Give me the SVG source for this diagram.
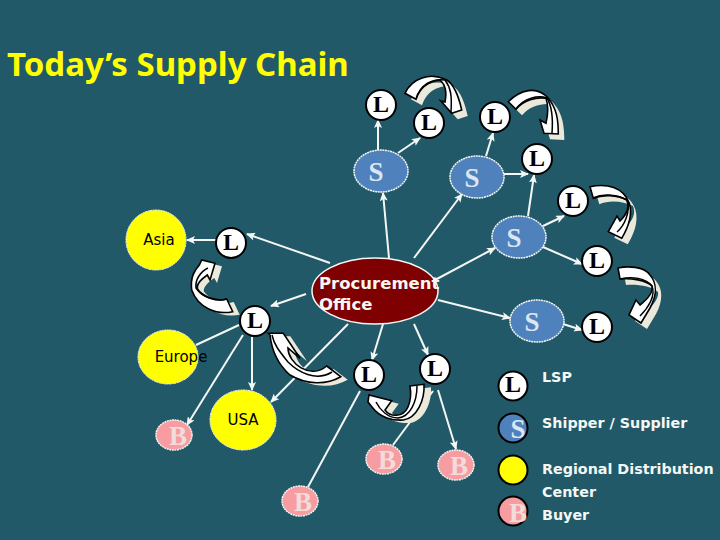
<svg xmlns="http://www.w3.org/2000/svg" width="720" height="540" viewBox="0 0 720 540">
<style>
.c line{stroke:#f4f7f4;stroke-width:2;fill:none}
.a{marker-end:url(#ah)}
.l circle{fill:#fff;stroke:#000;stroke-width:2}
.l text,.s text,.b text{font-family:"Liberation Serif",serif;font-weight:bold;text-anchor:middle}
.l text{font-size:24px;fill:#000}
.s ellipse{fill:#4f81bd;stroke:#f4f7f4;stroke-width:1.5;stroke-dasharray:2 .6}
.s text{font-size:27px;fill:#dce6f1}
.b ellipse{fill:#f79ca0;stroke:#f4f7f4;stroke-width:1.5;stroke-dasharray:2 .6}
.b text{font-size:27px;fill:#f2dcdb}
.y ellipse{fill:#ffff00;stroke:#f4f7f4;stroke-width:1;stroke-dasharray:2 .6}
.y text,.t{font-family:"DejaVu Sans",sans-serif}
.y text{font-size:15px;fill:#000;text-anchor:middle}
.t{font-size:14.3px;font-weight:bold;fill:#f4f7f4}
.leg{stroke:#000;stroke-width:2}
.sh{fill:#ebe8dc}
.ar{fill:#fff;stroke:#000;stroke-width:1.6;stroke-linejoin:miter}
.fold{fill:none;stroke:#000;stroke-width:1.5}
</style>
<defs>
<marker id="ah" markerUnits="userSpaceOnUse" markerWidth="9" markerHeight="8" refX="8" refY="4" orient="auto"><path d="M0,0 L9,4 L0,8 L2,4 Z" fill="#f4f7f4"/></marker>
<path id="f1" d="M405,93.3 C411.7,78.3 430,71.7 446.7,80 C455,85 459,98 461.7,110 L451.7,113.3 L440.7,100.7 L445,102 C447,92 446,85 440,80 C425,82 419,90 416,99.3 Z"/>
<path id="f2" d="M508.3,101.7 C520,90 536.7,85 548.3,98.3 C556.7,108.3 558.3,120 558.3,134 L544,133.3 L540,120 L546,123.3 C548.3,113.3 548.3,105 546,98.3 C536.7,96.7 523.3,100 516,109.3 Z"/>
<path id="f3" d="M590,186.7 C606.7,183.3 623.3,186.7 629.3,203.3 C633.3,216.7 626.7,230 621.7,238.3 L608.3,231.7 L617,216 L620,221 C627,214 630,207 627,200 C617,195 603,194 593.3,198.3 Z"/>
<path id="f4" d="M618,268 C627,266 644,266 650,275 C657,283 657,295 650,308 L641,323 L629,315 L636,300 L640,305 C649,298 653,291 652,286 C646,280 631,278 620,279 Z"/>
<path id="f6" d="M226.7,299 L232.7,311.7 C216.7,315 198.3,308.3 191.7,290 C190,276.7 195,270 199.3,265 L201.7,260 L215,263.3 L210,280 L207.3,275 C200,280 196.7,284 196.7,288.3 C203,297 216,302 226.7,299 Z"/>
<path id="f7" d="M326.7,366 L340.7,376.7 C326.7,385 306.7,385 290,375 C276.7,363.3 271.7,350 270,335 L268.3,333.3 L283.3,333.3 L300,358.3 L288,348 C288,363 310,380 326.7,366 Z"/>
<path id="f8" d="M410,386 L424,384.3 C425,400 416.7,418.3 403.3,420 C393.3,420.7 380,418 372,407 L368,402 L369,395 L391.7,400.7 L385,410 C390,417 403,418 408,407 C411,400 411,392 410,386 Z"/>
</defs>
<rect width="720" height="540" fill="#215968"/>
<text x="7" y="76" font-family="'Noto Sans',sans-serif" font-weight="bold" font-size="33px" fill="#ffff00" id="title">Today’s Supply Chain</text>
<g id="connectors" class="c">
<line class="a" x1="389" y1="258" x2="383" y2="193"/>
<line class="a" x1="414" y1="258" x2="462" y2="194"/>
<line class="a" x1="435" y1="280" x2="495" y2="248"/>
<line class="a" x1="438" y1="300" x2="510" y2="318"/>
<line class="a" x1="330" y1="263" x2="247" y2="234"/>
<line class="a" x1="216" y1="240" x2="187" y2="240"/>
<line class="a" x1="306" y1="294" x2="271" y2="306"/>
<line x1="239" y1="325" x2="196" y2="345"/>
<line class="a" x1="243" y1="335" x2="187" y2="425"/>
<line class="a" x1="252" y1="337" x2="252" y2="390"/>
<line class="a" x1="348" y1="324" x2="271" y2="402"/>
<line class="a" x1="383" y1="324" x2="372" y2="360"/>
<line class="a" x1="414" y1="324" x2="428" y2="355"/>
<line x1="360" y1="391" x2="308" y2="487"/>
<line x1="433" y1="391" x2="393" y2="445"/>
<line class="a" x1="438" y1="390" x2="456" y2="449"/>
<line class="a" x1="378" y1="150" x2="378" y2="120"/>
<line class="a" x1="398" y1="153" x2="420" y2="138"/>
<line class="a" x1="486" y1="156" x2="493" y2="133"/>
<line class="a" x1="504" y1="174" x2="528" y2="174"/>
<line class="a" x1="528" y1="216" x2="534" y2="175"/>
<line class="a" x1="543" y1="226" x2="564" y2="216"/>
<line class="a" x1="543" y1="247" x2="582" y2="264"/>
<line class="a" x1="563" y1="324" x2="582" y2="330"/>
</g>
<g id="flows">
<g transform="translate(6,6)" class="sh"><use href="#f1"/><use href="#f2"/><use href="#f3"/><use href="#f4"/></g>
<g transform="translate(7,3)" class="sh"><use href="#f6"/><use href="#f7"/><use href="#f8"/></g>
<use href="#f1" class="ar"/><path class="fold" d="M416,99 C420,85 432,78 445,80 C451,88 452,96 451,112"/>
<use href="#f2" class="ar"/><path class="fold" d="M516,109 C524,98 538,95 547,98 C553,108 553,120 552,133"/>
<use href="#f3" class="ar"/><path class="fold" d="M593,198 C604,193 618,195 627,200 C631,212 624,226 617,232"/>
<use href="#f4" class="ar"/><path class="fold" d="M620,279 C632,276 646,278 652,286 C656,296 648,308 640,316"/>
<use href="#f6" class="ar"/><path class="fold" d="M227,299 C215,302 202,297 196,288 C195,280 200,272 208,268"/>
<use href="#f7" class="ar"/><path class="fold" d="M332,372 C316,382 298,372 288,362 C280,352 274,345 272,335"/>
<use href="#f8" class="ar"/><path class="fold" d="M417,386 C417,402 410,417 398,418 C388,418 380,410 376,402"/>
</g>
<g id="asia" class="y"><ellipse cx="156" cy="240" rx="30" ry="30"/><text x="159" y="245">Asia</text></g>
<g id="europe" class="y"><ellipse cx="168" cy="357" rx="30" ry="27"/><text x="181" y="362">Europe</text></g>
<g id="usa" class="y"><ellipse cx="243" cy="420" rx="33" ry="30"/><text x="243" y="425">USA</text></g>
<g id="procurement"><ellipse cx="375" cy="291" rx="63" ry="33" fill="#7f0000" stroke="#f4f7f4" stroke-width="1.5"/><text x="319" y="289" font-family="'DejaVu Sans',sans-serif" font-weight="bold" font-size="16.5px" fill="#f4f7f4">Procurement</text><text x="319" y="310" font-family="'DejaVu Sans',sans-serif" font-weight="bold" font-size="16.5px" fill="#f4f7f4">Office</text></g>
<g id="s1" class="s"><ellipse cx="381" cy="171" rx="27" ry="21"/><text x="376" y="181">S</text></g>
<g id="s2" class="s"><ellipse cx="477" cy="177" rx="27" ry="21"/><text x="472" y="187">S</text></g>
<g id="s3" class="s"><ellipse cx="519" cy="237" rx="27" ry="21"/><text x="514" y="247">S</text></g>
<g id="s4" class="s"><ellipse cx="537" cy="321" rx="27" ry="21"/><text x="532" y="331">S</text></g>
<g id="l1" class="l"><circle cx="381" cy="105" r="15"/><text x="381" y="112">L</text></g>
<g id="l2" class="l"><circle cx="429" cy="123" r="15"/><text x="429" y="130">L</text></g>
<g id="l3" class="l"><circle cx="495" cy="117" r="15"/><text x="495" y="124">L</text></g>
<g id="l4" class="l"><circle cx="537" cy="159" r="15"/><text x="537" y="166">L</text></g>
<g id="l5" class="l"><circle cx="573" cy="201" r="15"/><text x="573" y="208">L</text></g>
<g id="l6" class="l"><circle cx="597" cy="261" r="15"/><text x="597" y="268">L</text></g>
<g id="l7" class="l"><circle cx="597" cy="327" r="15"/><text x="597" y="334">L</text></g>
<g id="l8" class="l"><circle cx="231" cy="243" r="15"/><text x="231" y="250">L</text></g>
<g id="l9" class="l"><circle cx="255" cy="321" r="15"/><text x="255" y="328">L</text></g>
<g id="l10" class="l"><circle cx="369" cy="375" r="15"/><text x="369" y="382">L</text></g>
<g id="l11" class="l"><circle cx="435" cy="369" r="15"/><text x="435" y="376">L</text></g>
<g id="b1" class="b"><ellipse cx="174" cy="435" rx="18" ry="15"/><text x="178" y="445">B</text></g>
<g id="b2" class="b"><ellipse cx="300" cy="501" rx="18" ry="15"/><text x="303" y="511">B</text></g>
<g id="b3" class="b"><ellipse cx="384" cy="459" rx="18" ry="15"/><text x="387" y="469">B</text></g>
<g id="b4" class="b"><ellipse cx="456" cy="465" rx="18" ry="15"/><text x="459" y="475">B</text></g>
<g id="legend">
<g class="l"><circle cx="513" cy="386" r="14.5"/><text x="513" y="392">L</text></g>
<g class="s"><circle class="leg" cx="513" cy="428" r="14.5" fill="#4f81bd"/><text x="518" y="438">S</text></g>
<circle class="leg" cx="513" cy="470" r="14.5" fill="#ffff00"/>
<g class="b"><circle class="leg" cx="513" cy="511" r="14.5" fill="#f79ca0"/><text x="518" y="522">B</text></g>
<text class="t" x="542" y="382">LSP</text>
<text class="t" x="542" y="428">Shipper / Supplier</text>
<text class="t" x="542" y="474">Regional Distribution</text>
<text class="t" x="542" y="497">Center</text>
<text class="t" x="542" y="520">Buyer</text>
</g>
</svg>
